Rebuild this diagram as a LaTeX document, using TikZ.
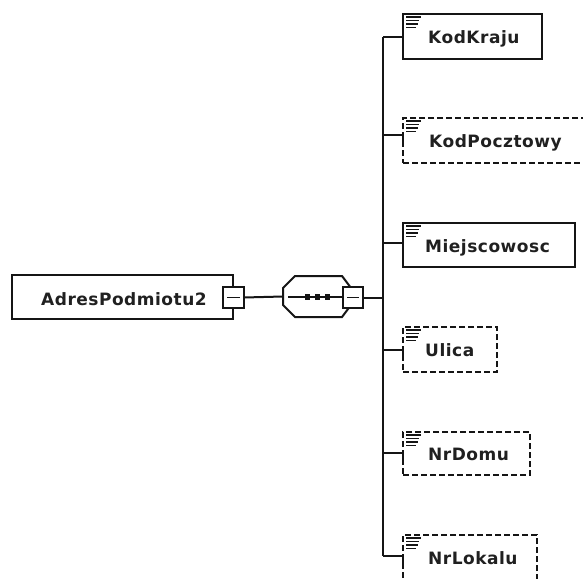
\documentclass[tikz,border=0pt]{standalone}
\usepackage{fontspec}
\setmainfont{DejaVu Sans}[LetterSpace=3]
\definecolor{ink}{HTML}{151515}
\definecolor{txt}{HTML}{202020}
\begin{document}
\begin{tikzpicture}[x=1pt,y=-1pt,
  ln/.style={draw=ink, line width=2pt},
  elbox/.style={draw=ink, fill=white, line width=2pt, rectangle,
    inner sep=0pt, outer sep=0pt, anchor=north west},
  optbox/.style={elbox, line width=1.8pt, dash pattern=on 6pt off 3pt},
  minusbox/.style={draw=ink, fill=white, line width=1.6pt, rectangle,
    inner sep=0pt, outer sep=0pt, minimum width=20pt, minimum height=21pt},
  lbl/.style={text=txt, font=\fontsize{17}{19}\selectfont\bfseries,
    inner sep=0pt, anchor=base west},
  iconline/.style={draw=ink, line width=1.2pt},
  dot/.style={fill=ink, draw=none}
]
\newcommand\elicon[1]{%
  \draw[iconline] ([shift={(3,3)}]#1.north west) -- ++(15,0)
    ([shift={(3,6.5)}]#1.north west) -- ++(13,0)
    ([shift={(3,10)}]#1.north west) -- ++(12,0)
    ([shift={(3,13.5)}]#1.north west) -- ++(10,0);}
\useasboundingbox (0,0) rectangle (583,578);
\clip (0,0) rectangle (583,578);
\fill[white] (0,0) rectangle (583,578);

% root element
\node[elbox, minimum width=221pt, minimum height=44pt] (root) at (12,275) {};
\node[lbl] (rootlbl) at (41,305) {AdresPodmiotu2};
\node[minusbox, minimum width=21pt] (rootmin) at (233.5,297.5) {};
\draw[line width=1.4pt, draw=ink] ([xshift=4pt]rootmin.west) -- ([xshift=-4pt]rootmin.east);

% sequence compositor
\node[inner sep=0pt, outer sep=0pt, minimum width=68pt, minimum height=41pt] (seq) at (317,296.5) {};
\draw[ln, fill=white] (283,288) -- (295,276) -- (342,276) -- (351,288) -- (351,305)
  -- (342,317) -- (295,317) -- (283,305) -- cycle;
\draw[draw=ink, line width=1.4pt] (288,297) -- (343,297);
\foreach \cx in {307.5,317.5,327.5}
  {\fill[dot] (\cx-2.8,294.2) rectangle (\cx+2.8,299.8);}
\node[minusbox] (seqmin) at (353,297.5) {};
\draw[line width=1.4pt, draw=ink] ([xshift=4pt]seqmin.west) -- ([xshift=-4pt]seqmin.east);

\draw[ln] (rootmin.east) -- (seq.west);

% bus
\coordinate (bus) at (383,297.5);
\coordinate (c1) at (383,37);
\coordinate (c2) at (383,135);
\coordinate (c3) at (383,243);
\coordinate (c4) at (383,350);
\coordinate (c5) at (383,453);
\coordinate (c6) at (383,556);
\draw[ln] (seqmin.east) -- (bus);
\draw[ln] (c1) -- (c6);

% child elements
\node[elbox, minimum width=139pt, minimum height=45pt] (kodkraju) at (403,14) {};
\node[optbox, minimum width=200pt, minimum height=45pt] (kodpocztowy) at (403,118) {};
\node[elbox, minimum width=172pt, minimum height=44pt] (miejscowosc) at (403,223) {};
\node[optbox, minimum width=94pt, minimum height=45pt] (ulica) at (403,327) {};
\node[optbox, minimum width=127pt, minimum height=43pt] (nrdomu) at (403,432) {};
\node[optbox, minimum width=134pt, minimum height=46pt] (nrlokalu) at (403,535) {};

\node[lbl] (t1) at (428,44) {KodKraju};
\node[lbl] (t2) at (429,147) {KodPocztowy};
\node[lbl] (t3) at (425,252) {Miejscowosc};
\node[lbl] (t4) at (425,356) {Ulica};
\node[lbl] (t5) at (428,460) {NrDomu};
\node[lbl] (t6) at (428,564) {NrLokalu};

\foreach \b in {kodkraju,kodpocztowy,miejscowosc,ulica,nrdomu,nrlokalu}
  {\elicon{\b}}

% branches from the bus
\draw[ln] (c1) -- (c1 -| kodkraju.west) -- ++(0,7);
\draw[ln] (c2) -- (c2 -| kodpocztowy.west) -- ++(0,7);
\draw[ln] (c3) -- (c3 -| miejscowosc.west) -- ++(0,7);
\draw[ln] (c4) -- (c4 -| ulica.west) -- ++(0,7);
\draw[ln] (c5) -- (c5 -| nrdomu.west) -- ++(0,7);
\draw[ln] (c6) -- (c6 -| nrlokalu.west) -- ++(0,7);
\end{tikzpicture}
\end{document}
